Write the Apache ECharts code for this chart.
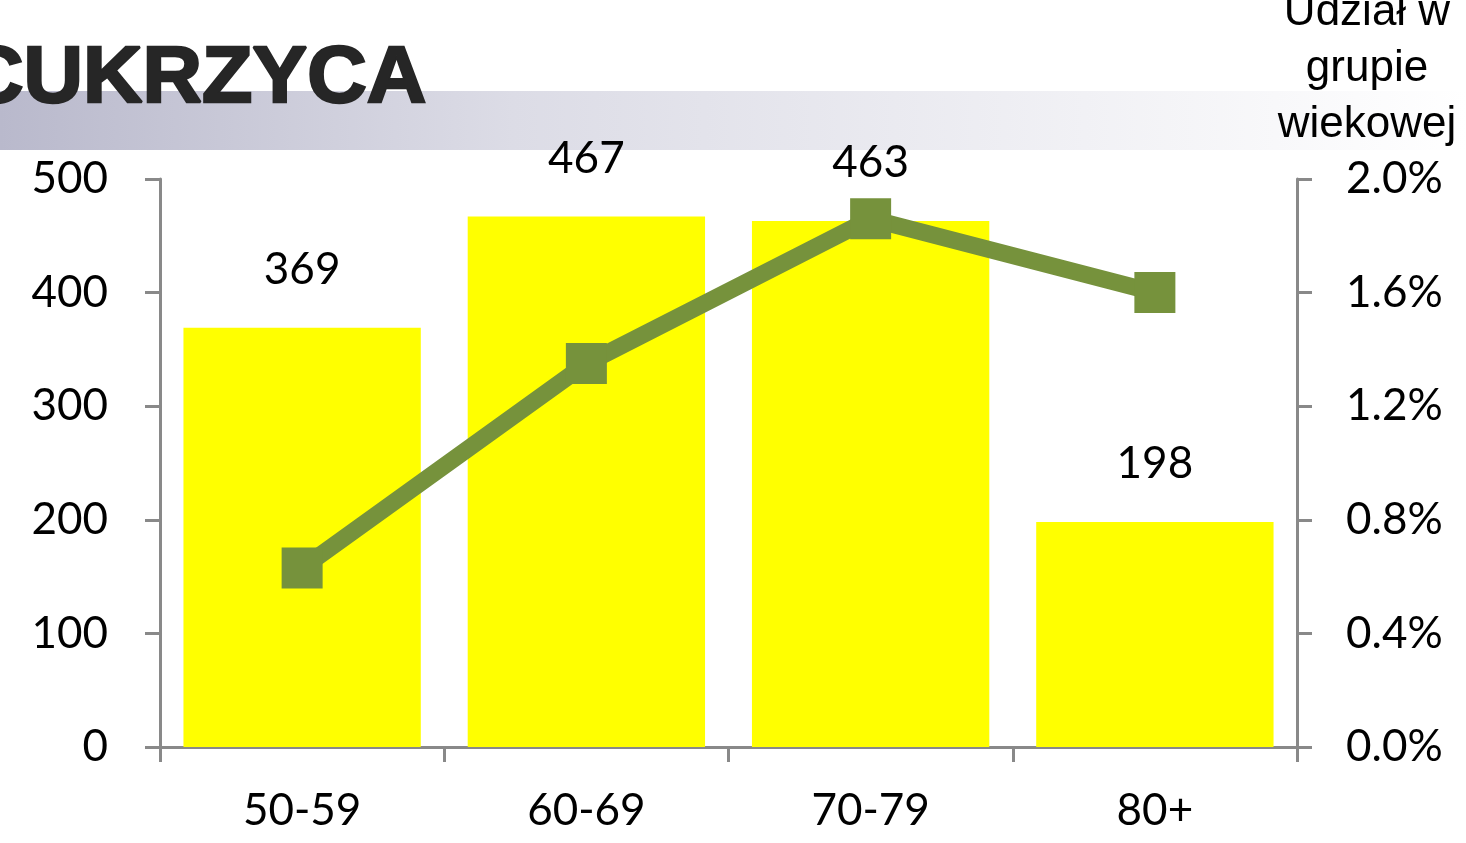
<!DOCTYPE html>
<html>
<head>
<meta charset="utf-8">
<script src="https://cdn.jsdelivr.net/npm/echarts@6/dist/echarts.min.js"></script>
<style>
  html, body { margin: 0; padding: 0; background: #fff; }
  #chart { width: 1466px; height: 843px; }
</style>
</head>
<body>
<div id="chart"></div>
<script>
// dane
const categories = ['50-59', '60-69', '70-79', '80+']
const counts = [369, 467, 463, 198]          // liczba przypadków
const shares = [0.63, 1.35, 1.86, 1.60]      // udział w grupie wiekowej (%)
const leftTicks = [0, 100, 200, 300, 400, 500]
const rightTicks = [0, 0.4, 0.8, 1.2, 1.6, 2.0]

const axisGrey = '#898989'
const font = 'Lato, "Noto Sans", sans-serif'

const chart = echarts.init(document.getElementById('chart'))
chart.setOption({
  animation: false,
  graphic: [
    {
      type: 'rect',
      z: 0,
      shape: { x: 0, y: 91, width: 1466, height: 59 },
      style: {
        fill: {
          type: 'linear', x: 0, y: 0, x2: 1, y2: 0,
          colorStops: [
            { offset: 0, color: '#b9b9cc' },
            { offset: 0.35, color: '#dcdce6' },
            { offset: 1, color: '#ffffff' }
          ]
        }
      }
    },
    {
      type: 'text',
      z: 1,
      x: -36,
      y: 40,
      scaleX: 1.03,
      style: {
        text: 'CUKRZYCA',
        font: 'bold 80px "Liberation Sans", Arial, sans-serif',
        fill: '#262626',
        stroke: '#262626',
        lineWidth: 2.5
      }
    }
  ],
  grid: { left: 160, right: 169, top: 179, bottom: 96, outerBoundsMode: 'none' },
  xAxis: {
    type: 'category',
    data: categories,
    axisLine: { lineStyle: { color: axisGrey, width: 3 } },
    axisTick: { show: true, length: 15, lineStyle: { color: axisGrey, width: 3 } },
    axisLabel: { color: '#000', fontSize: 44, fontFamily: font, margin: 42 }
  },
  yAxis: [
    {
      type: 'value',
      min: 0, max: 500, interval: 100,
      axisLine: { show: true, lineStyle: { color: axisGrey, width: 3 } },
      axisTick: { show: true, length: 15, lineStyle: { color: axisGrey, width: 3 } },
      axisLabel: { color: '#000', fontSize: 44, fontFamily: font, margin: 52 },
      splitLine: { show: false }
    },
    {
      type: 'value',
      min: 0, max: 2.0, interval: 0.4,
      name: 'Udział w\ngrupie\nwiekowej',
      nameLocation: 'end',
      nameGap: 26,
      nameTextStyle: {
        color: '#000', fontSize: 44, lineHeight: 56,
        fontFamily: '"Liberation Sans", Arial, sans-serif',
        align: 'center', padding: [0, 0, 0, 140]
      },
      axisLine: { show: true, lineStyle: { color: axisGrey, width: 3 } },
      axisTick: { show: true, length: 15, lineStyle: { color: axisGrey, width: 3 } },
      axisLabel: {
        color: '#000', fontSize: 44, fontFamily: font, margin: 49,
        formatter: v => v.toFixed(1) + '%'
      },
      splitLine: { show: false }
    }
  ],
  series: [
    {
      type: 'bar',
      data: counts,
      barCategoryGap: '16.5%',
      itemStyle: { color: '#ffff00' },
      label: {
        show: true, position: 'top', distance: 36,
        color: '#000', fontSize: 44, fontFamily: font
      },
      z: 2
    },
    {
      type: 'line',
      yAxisIndex: 1,
      data: shares,
      symbol: 'rect',
      symbolSize: 41,
      lineStyle: { color: '#76923c', width: 17 },
      itemStyle: { color: '#76923c' },
      z: 3
    }
  ]
})
</script>
</body>
</html>
